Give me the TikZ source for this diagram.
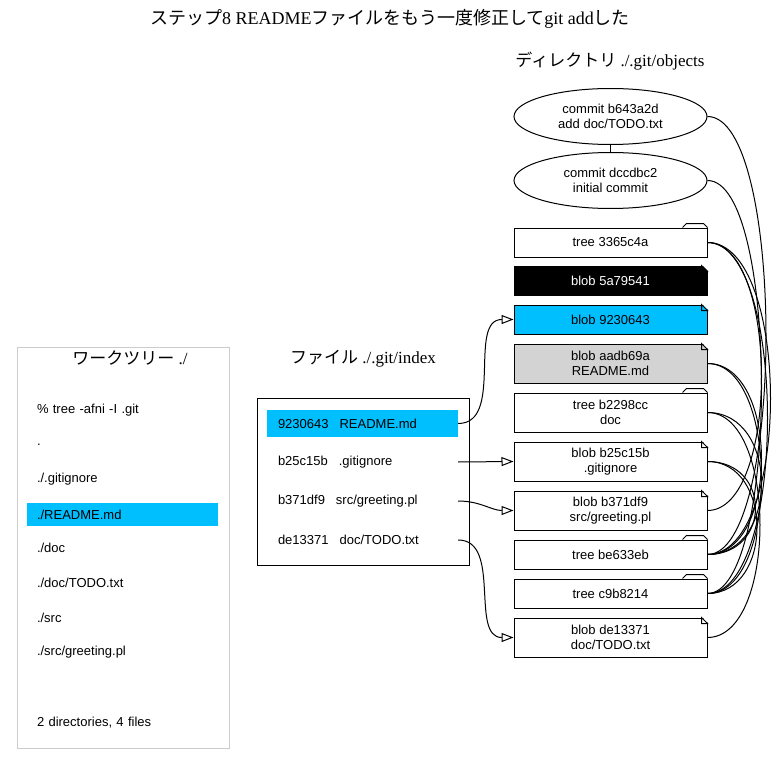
\documentclass[tikz,border=0pt]{standalone}
\usepackage{fontspec}
\setmainfont{Liberation Serif}
\setsansfont{Liberation Sans}
\newfontfamily\cjk{Noto Sans CJK JP}
\usetikzlibrary{shapes.geometric,arrows.meta}
\definecolor{idxCyan}{HTML}{00BFFF}
\definecolor{oldGray}{HTML}{D3D3D3}
\definecolor{wtFrame}{HTML}{CCCCCC}

\tikzset{
  objfont/.style={font=\sffamily\fontsize{13}{15}\selectfont},
  commit/.style={ellipse, draw, line width=1pt, objfont, minimum width=193pt, minimum height=56pt, align=center, inner sep=0pt},
  objbox/.style={rectangle, draw, line width=1pt, objfont, minimum width=193pt, align=center, inner sep=0pt, fill=white},
  oneline/.style={minimum height=29pt},
  twoline/.style={minimum height=39pt},
  idxrow/.style={objfont, text width=169pt, inner xsep=11pt, inner ysep=0pt, minimum height=27pt, align=left},
  wtline/.style={objfont, text width=171pt, inner xsep=10pt, inner ysep=0pt, minimum height=23pt, align=left},
  heading/.style={font=\fontsize{17}{20}\selectfont},
  idxarrow/.style={line width=1pt, -{Triangle[open,length=12pt,width=9pt]}},
  objlink/.style={line width=1pt, to path={.. controls +(#1,0) and +(#1,0) .. (\tikztotarget)}},
  objlink/.default=72
}

\begin{document}
\begin{tikzpicture}[x=1pt,y=-1pt]
\useasboundingbox (0,0) rectangle (777,765);

% titles
\node[heading, font=\fontsize{18}{22}\selectfont] (title) at (390,19)
  {{\cjk ステップ}8 README{\cjk ファイルをもう一度修正して}git add{\cjk した}};
\node[heading] (objhead) at (610,61) {{\cjk ディレクトリ} ./.git/objects};
\node[heading] (idxhead) at (363,359) {{\cjk ファイル} ./.git/index};
\node[heading] (wthead) at (130,358) {{\cjk ワークツリー} ./};

% work tree
\draw[wtFrame, line width=1pt] (17,347) rectangle (229,748);
\node[wtline] (w0) at (122.5,410) {\% tree -afni -I .git};
\node[wtline] (w1) at (122.5,445) {.};
\node[wtline] (w2) at (122.5,479) {./.gitignore};
\node[wtline, fill=idxCyan] (w3) at (122.5,514.5) {./README.md};
\node[wtline] (w4) at (122.5,548) {./doc};
\node[wtline] (w5) at (122.5,583) {./doc/TODO.txt};
\node[wtline] (w6) at (122.5,618) {./src};
\node[wtline] (w7) at (122.5,652) {./src/greeting.pl};
\node[wtline] (w8) at (122.5,723) {2 directories, 4 files};

% index
\draw[line width=1pt] (257,398) rectangle (469,565);
\node[idxrow, fill=idxCyan] (r1) at (362.5,423.5) {9230643\hspace{11pt}README.md};
\node[idxrow] (r2) at (362.5,462) {b25c15b\hspace{11pt}.gitignore};
\node[idxrow] (r3) at (362.5,501) {b371df9\hspace{11pt}src/greeting.pl};
\node[idxrow] (r4) at (362.5,540) {de13371\hspace{11pt}doc/TODO.txt};

% objects
\node[commit] (c1) at (610.5,116.5) {commit b643a2d\\add doc/TODO.txt};
\node[commit] (c2) at (610.5,180.5) {commit dccdbc2\\initial commit};
\node[objbox, oneline] (t3365) at (610.5,242.5) {tree 3365c4a};
\node[objbox, oneline, fill=black, text=white] (b5a79) at (610.5,280.5) {blob 5a79541};
\node[objbox, oneline, fill=idxCyan] (b9230) at (610.5,319.5) {blob 9230643};
\node[objbox, twoline, fill=oldGray] (baadb) at (610.5,363.5) {blob aadb69a\\README.md};
\node[objbox, twoline] (tb229) at (610.5,412.5) {tree b2298cc\\doc};
\node[objbox, twoline] (bb25c) at (610.5,461.5) {blob b25c15b\\.gitignore};
\node[objbox, twoline] (bb371) at (610.5,510.5) {blob b371df9\\src/greeting.pl};
\node[objbox, oneline] (tbe63) at (610.5,554.5) {tree be633eb};
\node[objbox, oneline] (tc9b8) at (610.5,593.5) {tree c9b8214};
\node[objbox, twoline] (bde13) at (610.5,637.5) {blob de13371\\doc/TODO.txt};

% folder tabs and note corners
\foreach \n in {t3365,tb229,tbe63,tc9b8}{
  \filldraw[fill=white, line width=1pt] ([xshift=-25pt]\n.north east) -- ++(4,-4) -- ++(17,0) -- (\n.north east);
}
\foreach \n in {b5a79,b9230,baadb,bb25c,bb371,bde13}{
  \fill[white] ([xshift=-6pt,yshift=1pt]\n.north east) -- ([xshift=1pt,yshift=1pt]\n.north east) -- ([xshift=1pt,yshift=-6pt]\n.north east) -- cycle;
  \draw[line width=1pt] ([xshift=-6pt]\n.north east) |- ([yshift=-6pt]\n.north east) -- cycle;
}

% links between objects
\draw[line width=1pt] (c1) -- (c2);
\draw[objlink=78] (c1.east) to (tbe63.east);
\draw[objlink=72] (c2.east) to (tc9b8.east);
\draw[objlink=84] (tbe63.east) to (t3365.east);
\draw[objlink] (tbe63.east) to (baadb.east);
\draw[objlink] (tbe63.east) to (tb229.east);
\draw[objlink=64] (tbe63.east) to (bb25c.east);
\draw[objlink=80] (tc9b8.east) to (t3365.east);
\draw[objlink] (tc9b8.east) to (baadb.east);
\draw[objlink=66] (tc9b8.east) to (bb25c.east);
\draw[objlink] (t3365.east) to (bb371.east);
\draw[objlink=70] (tb229.east) to (bde13.east);

% index entries
\draw[idxarrow] (r1.east) to[out=0,in=180] (b9230.west);
\draw[idxarrow] (r2.east) -- (bb25c.west);
\draw[idxarrow] (r3.east) to[out=0,in=180] (bb371.west);
\draw[idxarrow] (r4.east) to[out=0,in=180] (bde13.west);
\end{tikzpicture}
\end{document}
